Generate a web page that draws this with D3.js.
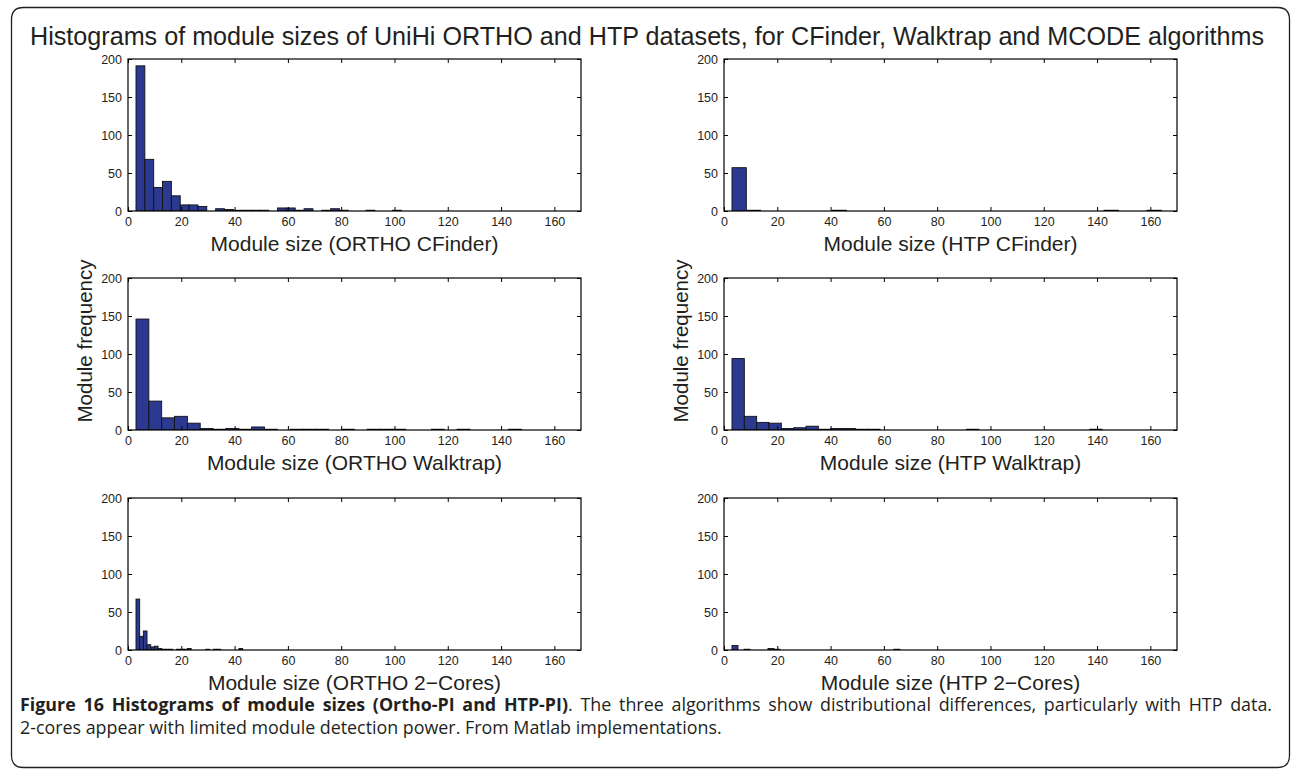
<!DOCTYPE html>
<html>
<head>
<meta charset="utf-8">
<script src="https://cdn.jsdelivr.net/npm/d3@7"></script>
<style>
  html, body { margin: 0; padding: 0; background: #fff; }
  svg { display: block; }
</style>
</head>
<body>
<svg id="chart" width="1292" height="769"></svg>
<script>
// ---------------- DATA ----------------
const titleText = "Histograms of module sizes of UniHi ORTHO and HTP datasets, for CFinder, Walktrap and MCODE algorithms";
const xTicks = [0, 20, 40, 60, 80, 100, 120, 140, 160];
const yTicks = [0, 50, 100, 150, 200];
const xDomain = [0, 170];
const yDomain = [0, 200];
const yLabelText = "Module frequency";

const panelNames = ["ORTHO CFinder", "HTP CFinder", "ORTHO Walktrap", "HTP Walktrap", "ORTHO 2\u2212Cores", "HTP 2\u2212Cores"];
// histogram bins: first bin edge and bin width (module size units)
const binStarts = [3, 3, 3, 3, 3, 3];
const binWidths = [3.32, 5.37, 4.82, 4.63, 1.38, 2.25];

const orthoCFinder = [191,68,31,39,20,8,8,6,0,3,2,1,1,1,1,0,4,4,1,3,0,1,3,1,0,0,1,0,0,1,0,0,0,0,0,0,0,0,0,0,0,0,0,0,0,0,0,0,0,0];
const htpCFinder   = [57,1,0,0,0,0,0,1,0,0,0,0,0,0,0,0,0,0,0,0,0,0,0,0,0,0,1,0,0,1,0];
const orthoWalktrap= [146,38,16,18,9,2,1,2,1,4,1,0,1,1,1,0,1,0,1,1,1,0,0,1,0,1,0,0,0,1,0,0,0,0];
const htpWalktrap  = [94,18,10,9,2,3,5,1,2,2,1,1,0,0,0,0,0,0,0,1,0,0,0,0,0,0,0,0,0,1,0,0,0,0,0,0];
const ortho2Cores  = [67,18,25,7,4,5,2,1,1,1,0,1,1,1,2,0,0,0,0,1,0,1,1,0,0,0,0,0,2,0,0,0,0,0,0,0,0,0,0,0,0,0,0,0,0,0,0,0,0,0];
const htp2Cores    = [6,0,1,0,0,0,2,1,0,0,0,0,0,0,0,0,0,0,0,0,0,0,0,0,0,0,0,1,0,0];
const panelCounts = [orthoCFinder, htpCFinder, orthoWalktrap, htpWalktrap, ortho2Cores, htp2Cores];

const captionBold = "Figure 16 Histograms of module sizes (Ortho-PI and HTP-PI)";
const captionLine1Rest = ". The three algorithms show distributional differences, particularly with HTP data.";
const captionLine2 = "2-cores appear with limited module detection power. From Matlab implementations.";

// ---------------- LAYOUT ----------------
const svg = d3.select("#chart");
const textColor = "#231f20";
const barFill = "#2b3990";
const axisFont = "'Liberation Sans', Arial, Helvetica, sans-serif";
const capFont = "'Open Sans', 'Noto Sans', sans-serif";

// outer frame
const fx0 = 11.5, fy0 = 7.5, fx1 = 1289.5, fy1 = 767.5, r = 12;
svg.append("path")
  .attr("d", `M${fx0},${fy0 + r} Q${fx0},${fy0} ${fx0 + r},${fy0} L${fx1 - r},${fy0} Q${fx1},${fy0} ${fx1},${fy0 + r} L${fx1},${fy1 - r} Q${fx1},${fy1} ${fx1 - r},${fy1} L${fx0 + r},${fy1} Q${fx0},${fy1} ${fx0},${fy1 - r} Z`)
  .attr("fill", "none").attr("stroke", textColor).attr("stroke-width", 1.3);

// title
const title = svg.append("text")
  .attr("x", 647).attr("y", 45)
  .attr("text-anchor", "middle")
  .attr("font-family", axisFont).attr("font-size", 24)
  .attr("fill", textColor)
  .text(titleText);
{
  const w = title.node().getComputedTextLength();
  title.attr("font-size", 24 * 1235 / w);
}

const colX = [128, 724];
const rowY = [59, 278, 498];
const pw = 453, ph = 152;

const x = d3.scaleLinear().domain(xDomain).range([0, pw]);
const y = d3.scaleLinear().domain(yDomain).range([ph, 0]);

panelCounts.forEach((counts, idx) => {
  const col = idx % 2, row = Math.floor(idx / 2);
  const g = svg.append("g").attr("transform", `translate(${colX[col]},${rowY[row]})`);
  const clipId = "clip" + idx;
  g.append("clipPath").attr("id", clipId).append("rect").attr("width", pw).attr("height", ph);

  const bins = counts.map((c, i) => ({
    x0: binStarts[idx] + i * binWidths[idx],
    x1: binStarts[idx] + (i + 1) * binWidths[idx],
    c
  })).filter(d => d.c > 0);

  g.append("g").attr("clip-path", `url(#${clipId})`)
    .selectAll("rect").data(bins).join("rect")
    .attr("x", d => x(d.x0))
    .attr("width", d => x(d.x1) - x(d.x0))
    .attr("y", d => y(d.c))
    .attr("height", d => y(0) - y(d.c))
    .attr("fill", barFill)
    .attr("stroke", "#111")
    .attr("stroke-width", 0.9);

  const tickStyle = sel => {
    sel.select(".domain").remove();
    sel.selectAll(".tick line").attr("stroke", "#000").attr("stroke-width", 1);
    sel.selectAll(".tick text").attr("fill", textColor)
      .attr("font-family", axisFont).attr("font-size", 12.5);
  };

  g.append("g").attr("transform", `translate(0,${ph})`)
    .call(d3.axisBottom(x).tickValues(xTicks).tickSize(-4).tickPadding(6))
    .call(tickStyle);
  g.append("g")
    .call(d3.axisTop(x).tickValues(xTicks).tickSize(-4).tickFormat(""))
    .call(tickStyle);
  g.append("g")
    .call(d3.axisLeft(y).tickValues(yTicks).tickSize(-4).tickPadding(6))
    .call(tickStyle);
  g.append("g").attr("transform", `translate(${pw},0)`)
    .call(d3.axisRight(y).tickValues(yTicks).tickSize(-4).tickFormat(""))
    .call(tickStyle);

  g.append("rect").attr("width", pw).attr("height", ph)
    .attr("fill", "none").attr("stroke", "#000").attr("stroke-width", 1.2);

  g.append("text")
    .attr("x", pw / 2).attr("y", ph + 40)
    .attr("text-anchor", "middle")
    .attr("font-family", axisFont).attr("font-size", 21)
    .attr("fill", textColor)
    .text("Module size (" + panelNames[idx] + ")");

  if (row === 1) {
    g.append("text")
      .attr("transform", `translate(-36,${341 - rowY[row]}) rotate(-90)`)
      .attr("text-anchor", "middle")
      .attr("font-family", axisFont).attr("font-size", 20.5)
      .attr("fill", textColor)
      .text(yLabelText);
  }
});

// caption
const cap2 = svg.append("text")
  .attr("x", 20).attr("y", 734)
  .attr("font-family", capFont).attr("font-size", 16)
  .attr("fill", textColor)
  .text(captionLine2);
let capSize = 16;
{
  const w = cap2.node().getComputedTextLength();
  capSize = 16 * 702 / w;
  cap2.attr("font-size", capSize);
}
const cap1 = svg.append("text")
  .attr("x", 20).attr("y", 711)
  .attr("font-family", capFont).attr("font-size", capSize)
  .attr("fill", textColor);
cap1.append("tspan").attr("font-weight", "bold").text(captionBold);
cap1.append("tspan").text(captionLine1Rest);
{
  const w = cap1.node().getComputedTextLength();
  const spaces = (captionBold + captionLine1Rest).split(" ").length - 1;
  const ws = (1272 - 20 - w) / spaces;
  cap1.attr("word-spacing", ws);
}
</script>
</body>
</html>
